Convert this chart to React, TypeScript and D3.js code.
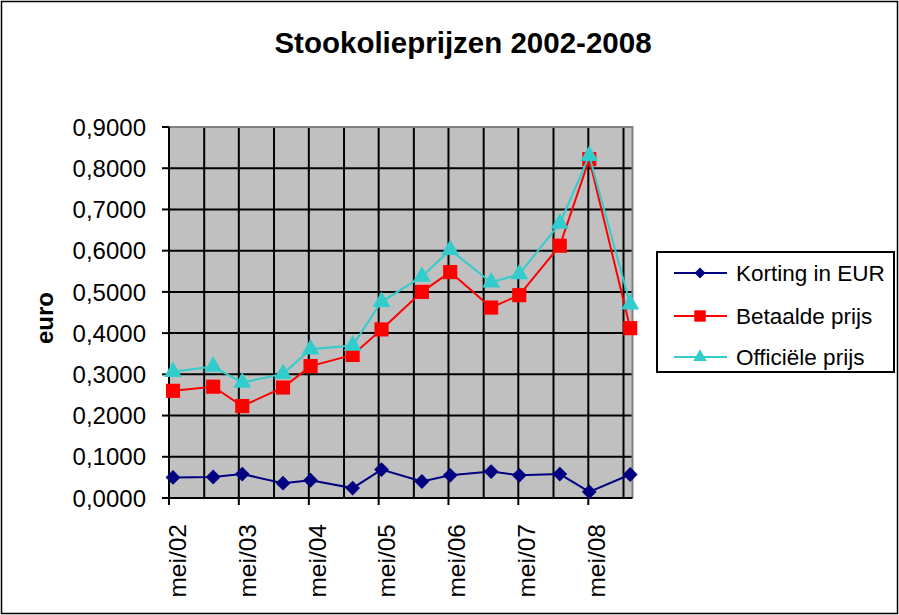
import React from 'react';
import * as d3 from 'd3';

// meetmomenten (ongeveer half-jaarlijks)
const dates = [
  '2002-05-22', '2002-12-18', '2003-05-19', '2003-12-18', '2004-05-10',
  '2004-12-16', '2005-05-16', '2005-12-13', '2006-05-10', '2006-12-10',
  '2007-05-06', '2007-12-04', '2008-05-06', '2008-12-06',
];
const korting = [0.050, 0.051, 0.058, 0.036, 0.043, 0.024, 0.069, 0.040, 0.055, 0.064, 0.055, 0.058, 0.015, 0.057];
const betaald = [0.260, 0.270, 0.223, 0.268, 0.320, 0.347, 0.409, 0.500, 0.548, 0.462, 0.492, 0.612, 0.822, 0.412];
const officieel = [0.306, 0.319, 0.280, 0.301, 0.361, 0.370, 0.476, 0.537, 0.602, 0.523, 0.543, 0.666, 0.830, 0.470];

const seriesNames = ['Korting in EUR', 'Betaalde prijs', 'Officiële prijs'];
const xTickLabels = ['mei/02', 'mei/03', 'mei/04', 'mei/05', 'mei/06', 'mei/07', 'mei/08'];
const yTicks = [0, 0.1, 0.2, 0.3, 0.4, 0.5, 0.6, 0.7, 0.8, 0.9];

const W = 899;
const H = 615;
const left = 169, right = 632.5, top = 127, bottom = 498;
const font = '"Liberation Sans", Arial, sans-serif';

const parse = d3.timeParse('%Y-%m-%d');
const start = parse('2002-05-01')!;
const end = parse('2008-12-18')!;

const nl = d3.formatLocale({ decimal: ',', thousands: '.', grouping: [3], currency: ['€', ''] });
const fmt = nl.format('.4f');

export default function App() {
  const x = d3.scaleTime().domain([start, end]).range([left, right]);
  const y = d3.scaleLinear().domain([0, 0.9]).range([bottom, top]);

  const points = dates.map(d => parse(d)!);
  const gridDates = d3.range(0, 14).map(i => d3.timeMonth.offset(start, 6 * i));
  const tickDates = xTickLabels.map((_, i) => d3.timeMonth.offset(start, 12 * i));

  const line = d3.line<number>()
    .x((_, i) => x(points[i]))
    .y(v => y(v));

  const diamond = d3.symbol().type(d3.symbolSquare);
  const square = d3.symbol().type(d3.symbolSquare);
  const triangle = d3.symbol().type(d3.symbolTriangle);

  const series = [
    { name: seriesNames[0], values: korting, color: '#000080', marker: (s: number) => diamond.size(s)()!, size: 110, rot: 45, legendSize: 60 },
    { name: seriesNames[1], values: betaald, color: '#ff0000', marker: (s: number) => square.size(s)()!, size: 200, rot: 0, legendSize: 130 },
    { name: seriesNames[2], values: officieel, color: '#33cccc', marker: (s: number) => triangle.size(s)()!, size: 140, rot: 0, legendSize: 80 },
  ];

  const legendX = 657, legendY = 252, legendRows = [273, 316, 357];

  return (
    <svg width={W} height={H} style={{ position: 'absolute', left: 0, top: 0, background: '#fff' }} fontFamily={font}>
      <rect x={1.5} y={1.5} width={896} height={612} fill="#fff" stroke="#000" strokeWidth={1.5} />

      <text x={463} y={53} textAnchor="middle" fontSize={29.5} fontWeight="bold">Stookolieprijzen 2002-2008</text>

      {/* plot area */}
      <rect x={left} y={top} width={right - left} height={bottom - top} fill="#c0c0c0" />
      {yTicks.slice(1).map(t => (
        <line key={'h' + t} x1={left} x2={right} y1={y(t)} y2={y(t)} stroke="#000" strokeWidth={2} />
      ))}
      {gridDates.slice(1).map((d, i) => (
        <line key={'v' + i} x1={x(d)} x2={x(d)} y1={top} y2={bottom} stroke="#000" strokeWidth={2} />
      ))}
      <path d={`M${left},${top}H${right}V${bottom}`} fill="none" stroke="#808080" strokeWidth={2} />
      <line x1={left} x2={left} y1={top} y2={bottom} stroke="#000" strokeWidth={2} />
      <line x1={left} x2={right} y1={bottom} y2={bottom} stroke="#000" strokeWidth={2} />

      {/* y axis */}
      {yTicks.map(t => (
        <g key={'y' + t}>
          <line x1={left - 7} x2={left} y1={y(t)} y2={y(t)} stroke="#000" strokeWidth={2} />
          <text x={146} y={y(t)} dy="0.36em" textAnchor="end" fontSize={24}>{fmt(t)}</text>
        </g>
      ))}
      <text transform={`translate(${53},${318}) rotate(-90)`} textAnchor="middle" fontSize={24} fontWeight="bold">euro</text>

      {/* x axis */}
      {tickDates.map((d, i) => (
        <g key={'x' + i}>
          <line x1={x(d)} x2={x(d)} y1={bottom} y2={bottom + 7} stroke="#000" strokeWidth={2} />
          <text transform={`translate(${x(d) + 8},${524}) rotate(-90)`} dy="0.36em" textAnchor="end" fontSize={24.5}>{xTickLabels[i]}</text>
        </g>
      ))}

      {/* series */}
      {series.map(s => (
        <g key={s.name}>
          <path d={line(s.values)!} fill="none" stroke={s.color} strokeWidth={2} />
          {s.values.map((v, i) => (
            <path key={i} d={s.marker(s.size)} fill={s.color}
              transform={`translate(${x(points[i])},${y(v)}) rotate(${s.rot})`} />
          ))}
        </g>
      ))}

      {/* legend */}
      <rect x={legendX} y={legendY} width={237} height={120} fill="#fff" stroke="#000" strokeWidth={2} />
      {series.map((s, i) => (
        <g key={'l' + i}>
          <line x1={674} x2={727} y1={legendRows[i]} y2={legendRows[i]} stroke={s.color} strokeWidth={2} />
          <path d={s.marker(s.legendSize)} fill={s.color} transform={`translate(700,${legendRows[i]}) rotate(${s.rot})`} />
          <text x={736} y={legendRows[i]} dy="0.36em" fontSize={22.5}>{s.name}</text>
        </g>
      ))}
    </svg>
  );
}
